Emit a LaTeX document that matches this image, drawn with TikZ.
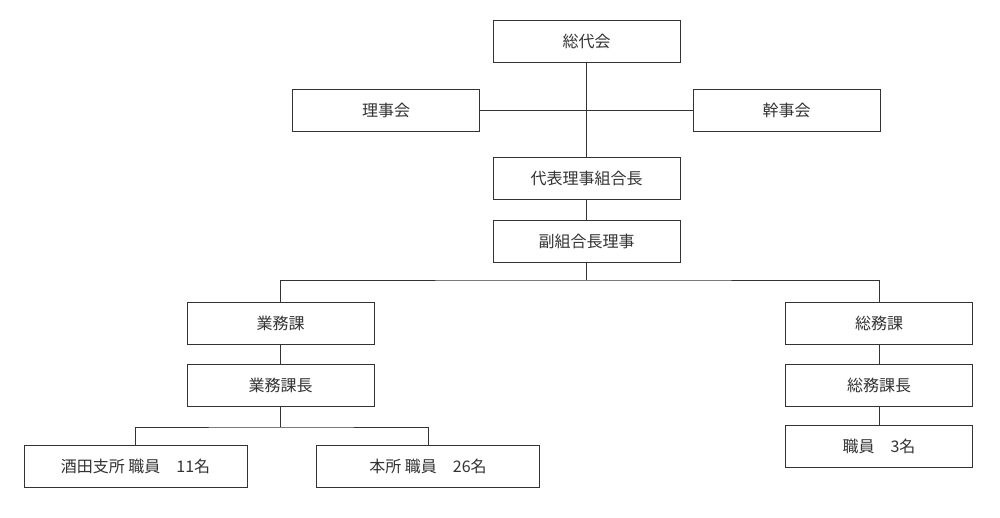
\documentclass[tikz,border=0pt]{standalone}
\usepackage{fontspec}
\setmainfont{Noto Sans CJK JP}
\begin{document}
\begin{tikzpicture}[x=1pt,y=-1pt]
\definecolor{ln}{HTML}{333333}
\tikzset{
  box/.style={draw=ln, line width=1pt, fill=white, text=ln, inner sep=0pt,
    minimum width=187pt, minimum height=42pt, font=\fontsize{16}{19}\selectfont},
  wbox/.style={box, minimum width=223pt},
  conn/.style={draw=ln, line width=1pt}
}
\useasboundingbox (0,0) rectangle (1000,517);
\fill[white] (0,0) rectangle (1000,517);
\node[box] (sodai) at (586.5,41) {総代会};
\node[box] (riji) at (386,110) {理事会};
\node[box] (kanji) at (786.5,110) {幹事会};
\node[box] (daihyo) at (586.5,178) {代表理事組合長};
\node[box] (fuku) at (586.5,241) {副組合長理事};
\node[box] (gyomu) at (280.5,323) {業務課};
\node[box] (gyomucho) at (280.5,385) {業務課長};
\node[wbox] (sakata) at (135.5,466.5) {酒田支所 職員\hspace{1em}11名};
\node[wbox] (honsho) at (428,466.5) {本所 職員\hspace{1em}26名};
\node[box] (somu) at (879,323) {総務課};
\node[box] (somucho) at (879,385) {総務課長};
\node[box] (shokuin) at (879,446) {職員\hspace{1em}3名};
\coordinate (j1) at (586.5,280);
\coordinate (j2) at (280.5,427);
\draw[conn] (sodai.south) -- (daihyo.north);
\draw[conn] (riji.east) -- (kanji.west);
\draw[conn] (daihyo.south) -- (fuku.north);
\draw[conn] (fuku.south) -- (j1);
\draw[conn] (gyomu.north) |- (j1) -| (somu.north);
\draw[conn] (gyomu.south) -- (gyomucho.north);
\draw[conn] (gyomucho.south) -- (j2);
\draw[conn] (sakata.north) |- (j2) -| (honsho.north);
\draw[conn] (somu.south) -- (somucho.north);
\draw[conn] (somucho.south) -- (shokuin.north);
\end{tikzpicture}
\end{document}
